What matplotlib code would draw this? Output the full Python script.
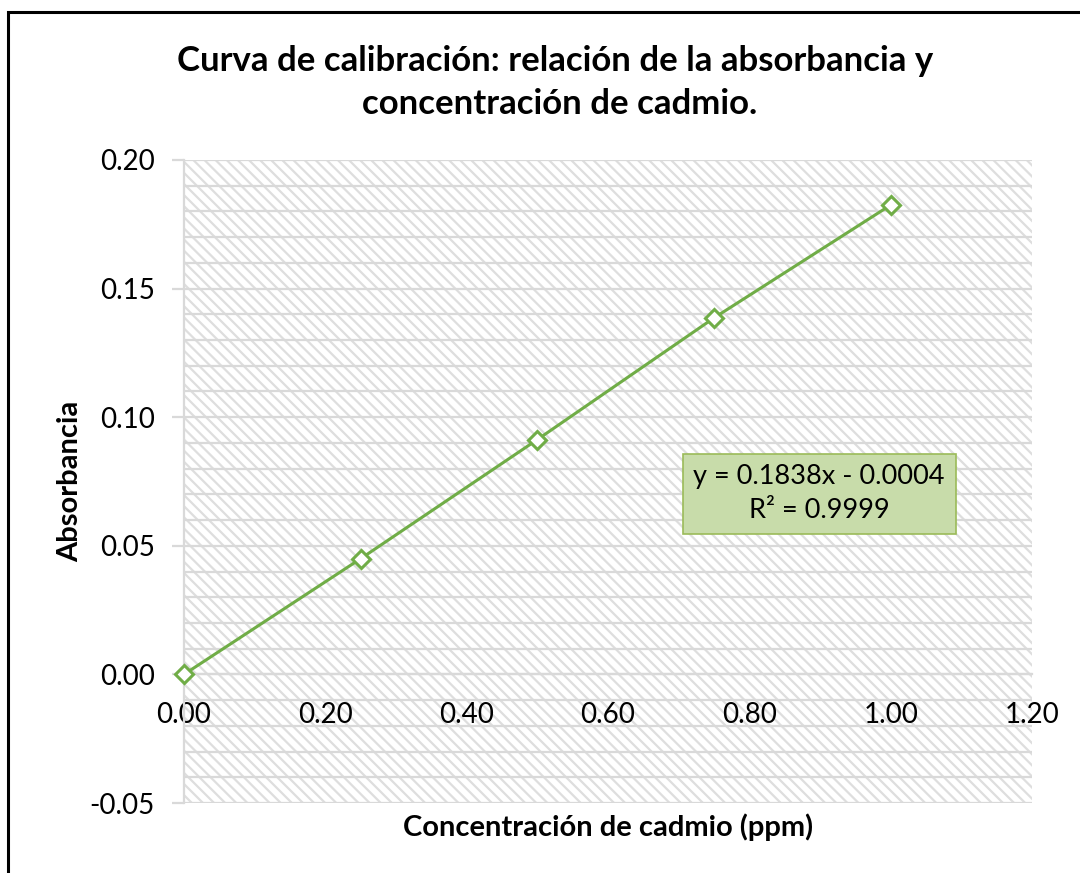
import numpy as np
import matplotlib
matplotlib.use("Agg")
import matplotlib.pyplot as plt
from matplotlib.patches import Rectangle
from matplotlib.ticker import MultipleLocator, FormatStrFormatter

# calibration data
conc_ppm = [0.00, 0.25, 0.50, 0.75, 1.00]
absorbance = [0.0000, 0.0450, 0.0913, 0.1386, 0.1825]
eq_text = "y = 0.1838x - 0.0004\nR² = 0.9999"

title = "Curva de calibración: relación de la absorbancia y \nconcentración de cadmio."
xlabel = "Concentración de cadmio (ppm)"
ylabel = "Absorbancia"

plt.rcParams["font.family"] = ["Lato", "DejaVu Sans"]
plt.rcParams["hatch.linewidth"] = 1.6

green = "#70AD47"
grid_gray = "#d9d9d9"

fig = plt.figure(figsize=(10.8, 8.73), dpi=100)
ax = fig.add_axes([184/1080, 1 - 803/873, (1032 - 184)/1080, (803 - 160)/873])

# hatched plot area
ax.patch.set_alpha(0)
ax.add_patch(Rectangle((0, 0), 1, 1, transform=ax.transAxes, facecolor="white",
                       edgecolor="#dedede", hatch="\\\\\\", lw=0, zorder=0))

ax.plot(conc_ppm, absorbance, color=green, lw=2.2, marker="D", ms=9,
        mfc="white", mec=green, mew=2.2, zorder=5, clip_on=False)

ax.set_xlim(0, 1.2)
ax.set_ylim(-0.05, 0.20)
ax.xaxis.set_major_locator(MultipleLocator(0.2))
ax.xaxis.set_major_formatter(FormatStrFormatter("%.2f"))
ax.yaxis.set_major_locator(MultipleLocator(0.05))
ax.yaxis.set_minor_locator(MultipleLocator(0.01))
ax.yaxis.set_major_formatter(FormatStrFormatter("%.2f"))

ax.grid(axis="y", which="both", color=grid_gray, lw=1.6, zorder=1)
ax.set_axisbelow(True)

for s in ["top", "right"]:
    ax.spines[s].set_visible(False)
ax.spines["left"].set_color(grid_gray)
ax.spines["left"].set_linewidth(1.6)
ax.spines["bottom"].set_position(("data", 0))
ax.spines["bottom"].set_color(grid_gray)
ax.spines["bottom"].set_linewidth(1.6)

ax.tick_params(axis="y", which="major", length=9, width=1.6, color=grid_gray,
               labelsize=20, pad=12)
ax.tick_params(axis="y", which="minor", length=0)
ax.tick_params(axis="x", length=0, labelsize=20, pad=20)

ax.set_xlabel(xlabel, fontsize=21, fontweight="bold", labelpad=0)
ax.xaxis.set_label_coords(0.5, -0.016)
ax.set_ylabel(ylabel, fontsize=21, fontweight="bold")
ax.yaxis.set_label_coords(-0.119, 0.5)

fig.text(0.518, 0.9055, title, ha="center", va="center", fontsize=25,
         fontweight="bold", linespacing=1.45)

ax.text(0.749, 0.4806, eq_text, transform=ax.transAxes, ha="center", va="center",
        fontsize=19.5, linespacing=1.45, zorder=6,
        bbox=dict(boxstyle="square,pad=0.4", facecolor="#c8dcaa",
                  edgecolor="#9bbb59", lw=1.2))

# outer chart frame (extends past the image on the right and bottom)
fig.add_artist(Rectangle((8/1080, -0.1), 1.2, 1.1 - 12/873, transform=fig.transFigure,
                         fill=False, edgecolor="black", lw=2.2))

fig.savefig("out.png", dpi=100)
